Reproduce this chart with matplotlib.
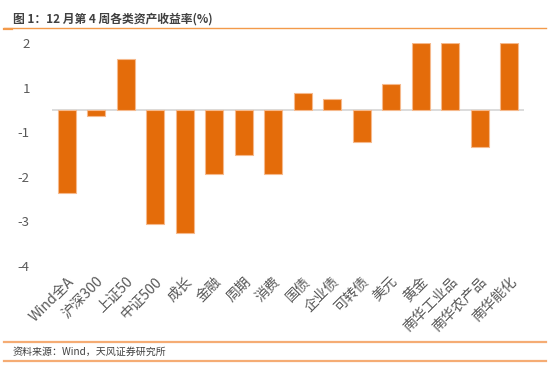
import matplotlib
matplotlib.use("Agg")
import matplotlib.pyplot as plt
from matplotlib.lines import Line2D

plt.rcParams['font.family'] = ['Noto Sans CJK SC', 'DejaVu Sans']

# 数据
categories = ["Wind全A", "沪深300", "上证50", "中证500", "成长", "金融", "周期", "消费",
              "国债", "企业债", "可转债", "美元", "黄金", "南华工业品", "南华农产品", "南华能化"]
returns = [-1.86, -0.14, 1.14, -2.56, -2.77, -1.43, -1.02, -1.44,
           0.37, 0.24, -0.73, 0.59, 1.5, 1.5, -0.84, 1.5]
ytick_pos = [1.5, 0.5, -0.5, -1.5, -2.5, -3.5]
ytick_labels = ["2", "1", "-1", "-2", "-3", "-4"]

W, H = 550, 370
fig = plt.figure(figsize=(W / 100, H / 100), dpi=100)
ax = fig.add_axes([52 / W, 1 - 266 / H, (524 - 52) / W, (266 - 43) / H])

x = range(len(categories))
ax.axhline(0, color="#d9d9d9", linewidth=1.3, zorder=1)
ax.bar(x, returns, width=0.62, color="#E46C0A", edgecolor="#F6B98C",
       linewidth=0.8, zorder=2)

ax.set_xlim(-0.5, len(categories) - 0.5)
ax.set_ylim(-3.5, 1.5)
ax.set_yticks(ytick_pos)
ax.set_yticklabels(ytick_labels)
ax.set_xticks(list(x))
ax.set_xticklabels(categories, rotation=45, ha="right", va="top",
                   rotation_mode="anchor")
ax.tick_params(axis="both", length=0, colors="#595959")
ax.tick_params(axis="y", pad=16, labelsize=9.5)
ax.tick_params(axis="x", pad=6, labelsize=10.2)
for s in ax.spines.values():
    s.set_visible(False)
ax.grid(False)

# 标题与装饰线
fig.text(13 / W, 1 - 19 / H, "图 1：12 月第 4 周各类资产收益率(%)", fontsize=8.5,
         fontweight="bold", color="#404040", ha="left", va="center")
fig.add_artist(Line2D([4 / W, 546 / W], [1 - 28 / H] * 2, color="#F39A4A", lw=1.0))
fig.add_artist(Line2D([4 / W, 12 / W], [1 - 29 / H] * 2, color="#F39A4A", lw=1.6))
fig.add_artist(Line2D([4 / W, 546 / W], [1 - 341.5 / H] * 2, color="#F5AC74", lw=1.6))
fig.add_artist(Line2D([4 / W, 546 / W], [1 - 360.5 / H] * 2, color="#F5AC74", lw=1.6))
fig.text(13 / W, 1 - 352 / H, "资料来源：Wind，天风证券研究所", fontsize=7.2,
         color="#404040", ha="left", va="center")

fig.savefig("out.png", dpi=100)
